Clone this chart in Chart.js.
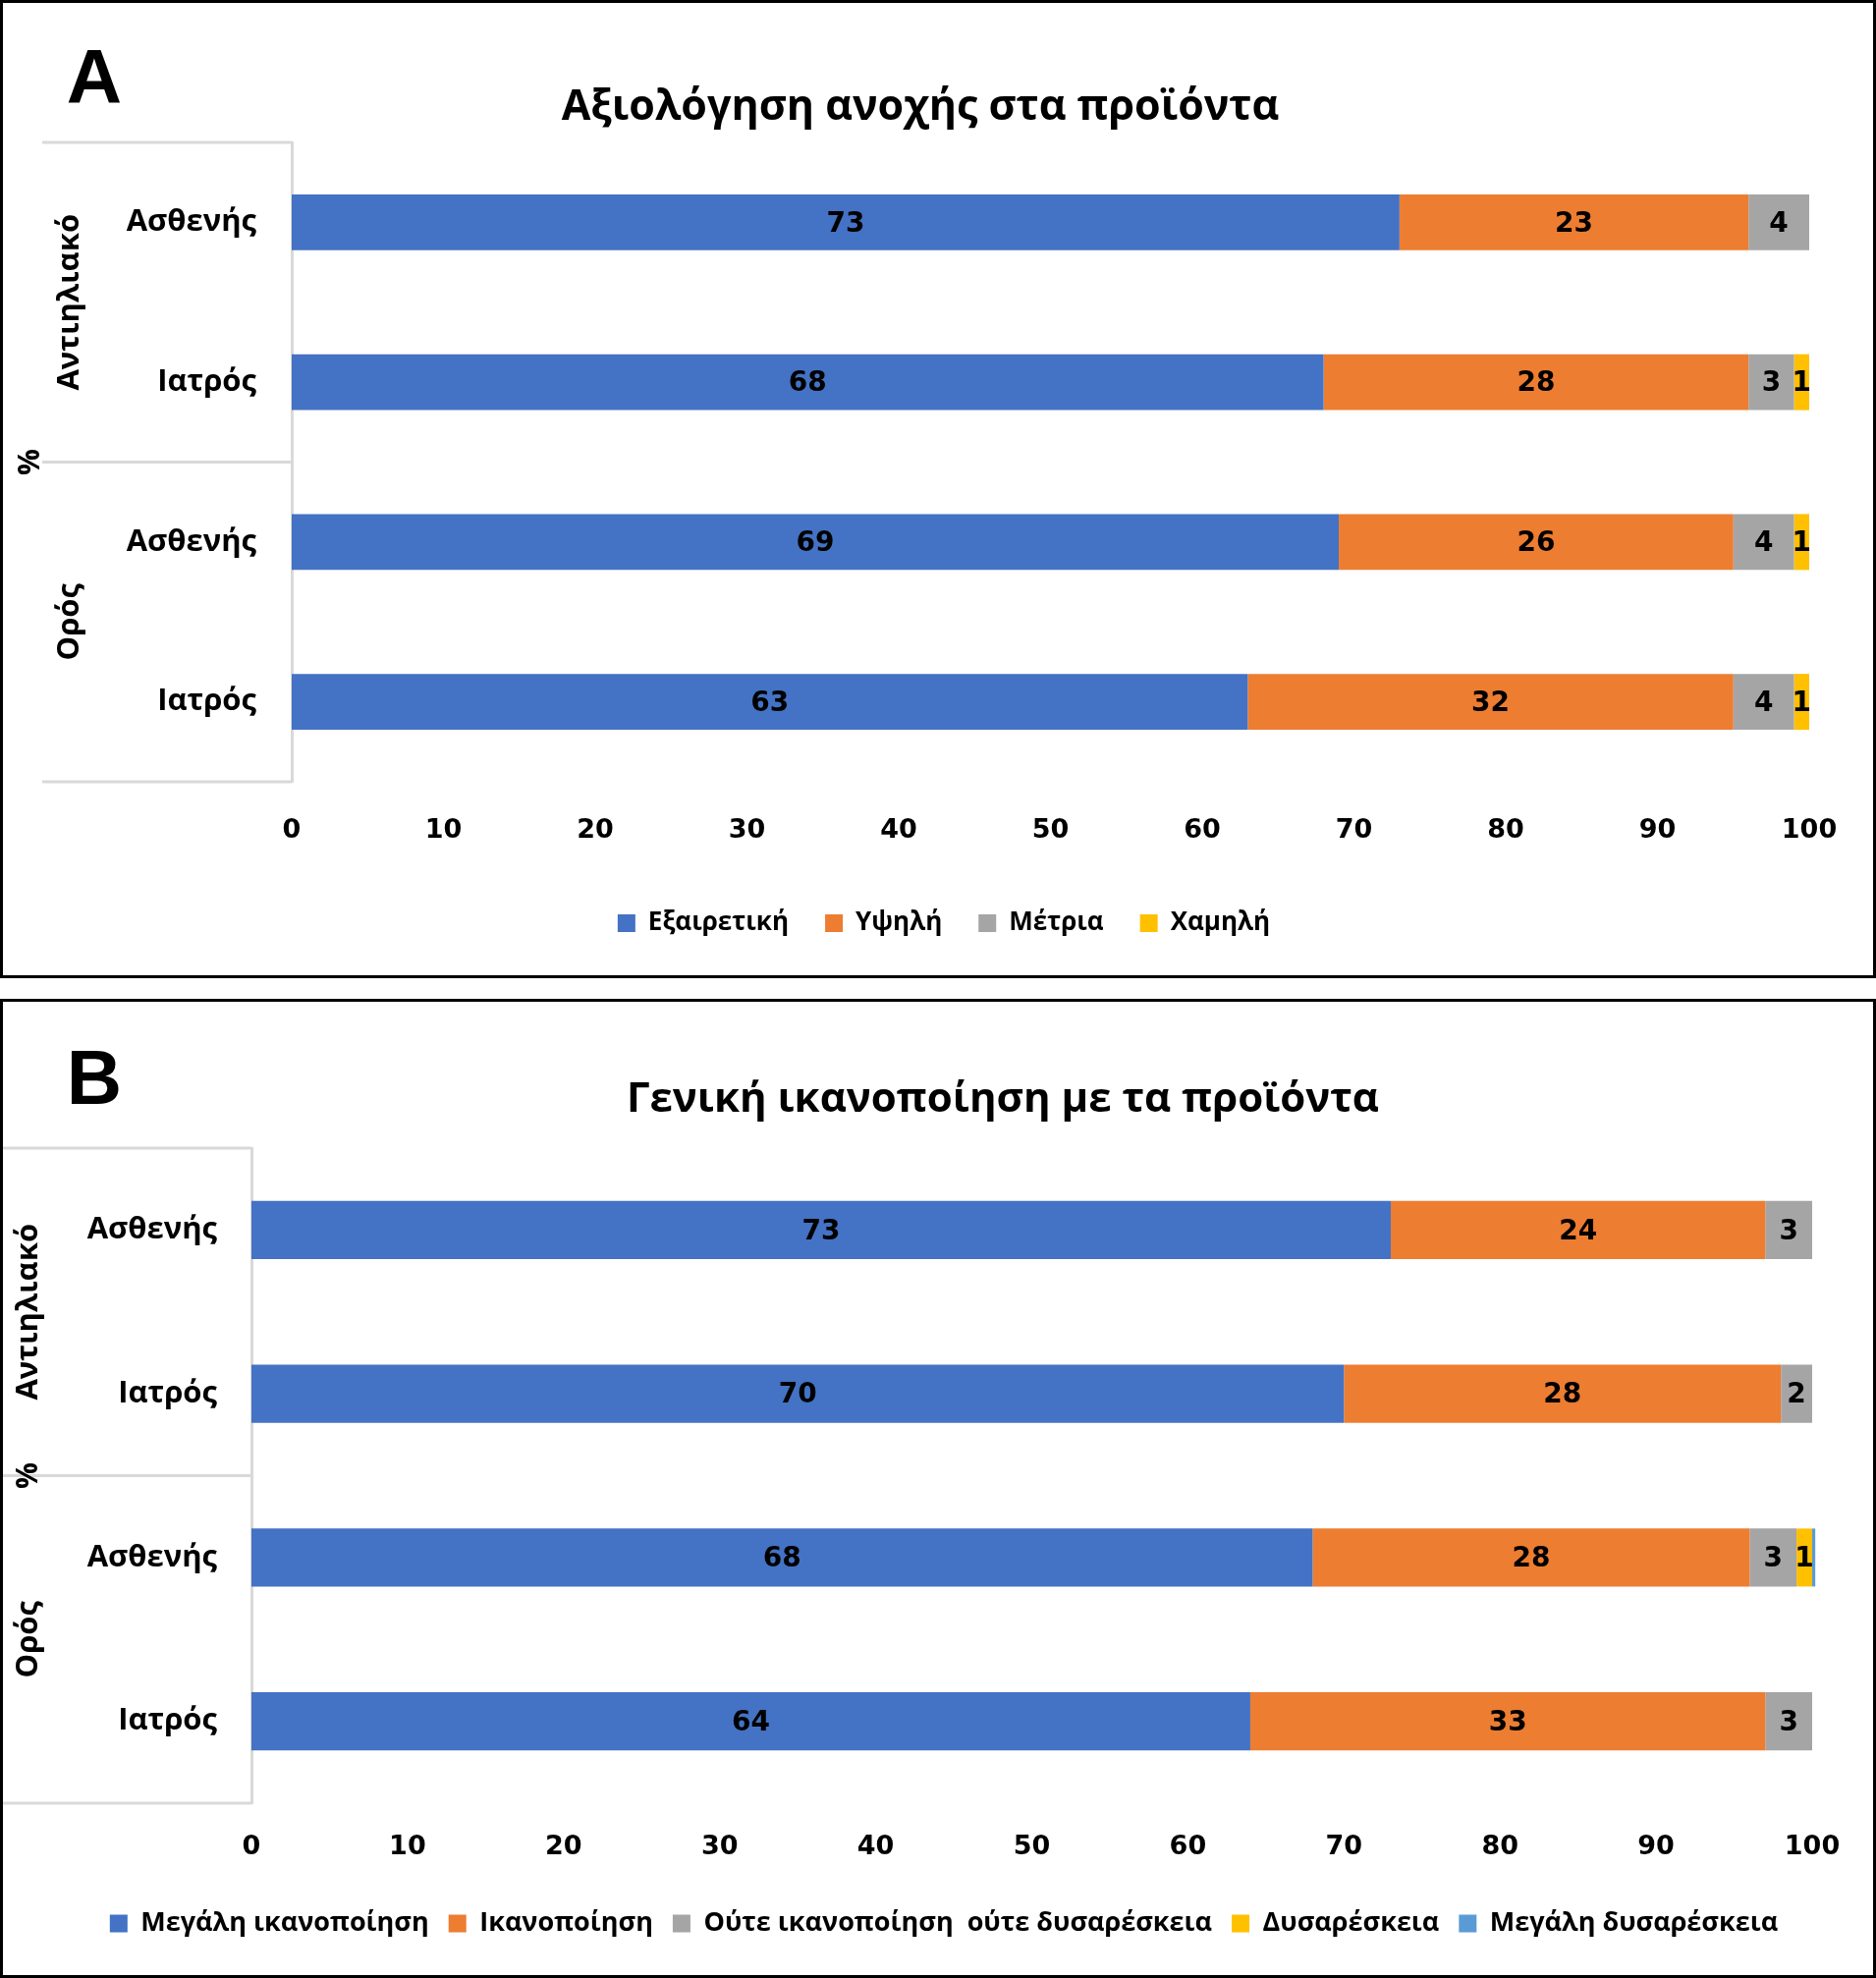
<!DOCTYPE html>
<html>
<head>
<meta charset="utf-8">
<script src="https://cdn.jsdelivr.net/npm/chart.js@4.4.1/dist/chart.umd.min.js"></script>
<style>
  html, body { margin: 0; padding: 0; background: #fff; }
  body { width: 1910px; height: 2014px; position: relative; overflow: hidden; }
  .panel { position: absolute; left: 0; width: 1910px; border: 3px solid #000; box-sizing: border-box; background: #fff; }
  #panelA { top: 0; height: 996px; }
  #panelB { top: 1017px; height: 997px; }
  canvas { display: block; }
</style>
</head>
<body>
<div class="panel" id="panelA"><canvas id="chartA" width="1904" height="990"></canvas></div>
<div class="panel" id="panelB"><canvas id="chartB" width="1904" height="991"></canvas></div>
<script>
// --- shared categories ---
const rowLabels = ['Ασθενής', 'Ιατρός', 'Ασθενής', 'Ιατρός'];
const groupLabels = ['Αντιηλιακό', 'Ορός'];

// --- panel A: tolerance ---
const tolSeries = ['Εξαιρετική', 'Υψηλή', 'Μέτρια', 'Χαμηλή'];
const tolExcellent = [73, 68, 69, 63];
const tolHigh = [23, 28, 26, 32];
const tolModerate = [4, 3, 4, 4];
const tolLow = [0, 1, 1, 1];

// --- panel B: satisfaction ---
const satSeries = ['Μεγάλη ικανοποίηση', 'Ικανοποίηση', 'Ούτε ικανοποίηση  ούτε δυσαρέσκεια', 'Δυσαρέσκεια', 'Μεγάλη δυσαρέσκεια'];
const satVeryHigh = [73, 70, 68, 64];
const satHigh = [24, 28, 28, 33];
const satNeutral = [3, 2, 3, 3];
const satLow = [0, 0, 1, 0];
const satVeryLow = [0, 0, 0.2, 0];

const COLORS = ['#4472C4', '#ED7D31', '#A5A5A5', '#FFC000', '#5B9BD5'];
const TEXT_FONT = '"Open Sans", "Noto Sans", sans-serif';
const NUM_FONT = '"DejaVu Sans", Verdana, sans-serif';

// labels inside bars, panel letter, title, grouped category box
const panelDecor = {
    id: 'panelDecor',
    afterDatasetsDraw(chart) {
        const ctx = chart.ctx;
        ctx.save();
        ctx.font = `bold 28px ${NUM_FONT}`;
        ctx.fillStyle = '#000';
        ctx.textAlign = 'center';
        ctx.textBaseline = 'middle';
        chart.data.datasets.forEach((ds, i) => {
            chart.getDatasetMeta(i).data.forEach((bar, j) => {
                const v = ds.data[j];
                if (v < 0.5) return;
                const p = bar.getCenterPoint();
                ctx.fillText(String(Math.round(v)), p.x, p.y + 2);
            });
        });
        ctx.restore();
    },
    afterDraw(chart, args, opts) {
        const { ctx, chartArea } = chart;
        const y = chart.scales.y;
        ctx.save();
        ctx.fillStyle = '#000';
        ctx.textAlign = 'center';
        ctx.textBaseline = 'middle';

        ctx.font = 'bold 78px "Liberation Sans", Arial, sans-serif';
        ctx.fillText(opts.letter, opts.letterX, opts.letterY);

        ctx.font = `bold ${opts.titleSize}px ${TEXT_FONT}`;
        ctx.fillText(opts.title, opts.titleX, opts.titleY);

        // group separator lines
        const mid = (y.getPixelForValue(1) + y.getPixelForValue(2)) / 2;
        ctx.strokeStyle = '#d9d9d9';
        ctx.lineWidth = 3;
        [chartArea.top, mid, chartArea.bottom].forEach(py => {
            ctx.beginPath();
            ctx.moveTo(opts.boxLeft, py);
            ctx.lineTo(chartArea.left, py);
            ctx.stroke();
        });

        // rotated group labels
        ctx.font = `bold 31px ${TEXT_FONT}`;
        groupLabels.forEach((g, k) => {
            const cy = (y.getPixelForValue(2 * k) + y.getPixelForValue(2 * k + 1)) / 2;
            ctx.save();
            ctx.translate(opts.groupX, cy);
            ctx.rotate(-Math.PI / 2);
            ctx.fillText(g, 0, 0);
            ctx.restore();
        });

        ctx.font = `bold 30px ${TEXT_FONT}`;
        ctx.save();
        ctx.translate(opts.unitX, mid);
        ctx.rotate(-Math.PI / 2);
        ctx.fillText('%', 0, 0);
        ctx.restore();

        ctx.restore();
    }
};

function makeChart(canvasId, series, values, cfg) {
    return new Chart(document.getElementById(canvasId), {
        type: 'bar',
        data: {
            labels: rowLabels,
            datasets: series.map((name, i) => ({
                label: name,
                data: values[i],
                backgroundColor: COLORS[i],
                borderWidth: 0,
                categoryPercentage: 1,
                barPercentage: cfg.barPct,
                clip: false
            }))
        },
        options: {
            indexAxis: 'y',
            responsive: false,
            animation: false,
            devicePixelRatio: 1,
            layout: { padding: cfg.padding },
            scales: {
                x: {
                    stacked: true,
                    min: 0,
                    max: 100,
                    ticks: { stepSize: 10, color: '#000', padding: cfg.xTickPad, font: { family: NUM_FONT, weight: 'bold', size: 27 } },
                    grid: { display: false, drawTicks: false },
                    border: { display: false },
                    afterFit: s => { s.height = cfg.xHeight; }
                },
                y: {
                    stacked: true,
                    ticks: { color: '#000', padding: cfg.yTickPad, font: { family: TEXT_FONT, weight: 'bold', size: 31 } },
                    grid: { display: false, drawTicks: false },
                    border: { color: '#d9d9d9', width: 3 },
                    afterFit: s => { s.width = cfg.yWidth; }
                }
            },
            plugins: {
                legend: {
                    position: 'bottom',
                    labels: {
                        color: '#000',
                        boxWidth: 18,
                        boxHeight: 18,
                        padding: cfg.legendPad,
                        font: { family: TEXT_FONT, weight: 'bold', size: cfg.legendSize }
                    }
                },
                tooltip: { enabled: false },
                panelDecor: cfg.decor
            }
        },
        plugins: [panelDecor]
    });
}

makeChart('chartA', tolSeries, [tolExcellent, tolHigh, tolModerate, tolLow], {
    barPct: 0.35,
    padding: { top: 142, right: 65, bottom: 30, left: 77 },
    xHeight: 94,
    xTickPad: 34,
    yWidth: 217,
    yTickPad: 36,
    legendPad: 37,
    legendSize: 26,
    decor: {
        letter: 'A', letterX: 93, letterY: 80,
        title: 'Αξιολόγηση ανοχής στα προϊόντα', titleSize: 43, titleX: 934, titleY: 107,
        boxLeft: 40, groupX: 68, unitX: 28
    }
});

makeChart('chartB', satSeries, [satVeryHigh, satHigh, satNeutral, satLow, satVeryLow], {
    barPct: 0.354,
    padding: { top: 149, right: 62, bottom: 29, left: 74 },
    xHeight: 89,
    xTickPad: 29,
    yWidth: 179,
    yTickPad: 35,
    legendPad: 20,
    legendSize: 27,
    decor: {
        letter: 'B', letterX: 93, letterY: 82,
        title: 'Γενική ικανοποίηση με τα προϊόντα', titleSize: 42, titleX: 1018, titleY: 100,
        boxLeft: 0, groupX: 26, unitX: 26
    }
});
</script>
</body>
</html>
